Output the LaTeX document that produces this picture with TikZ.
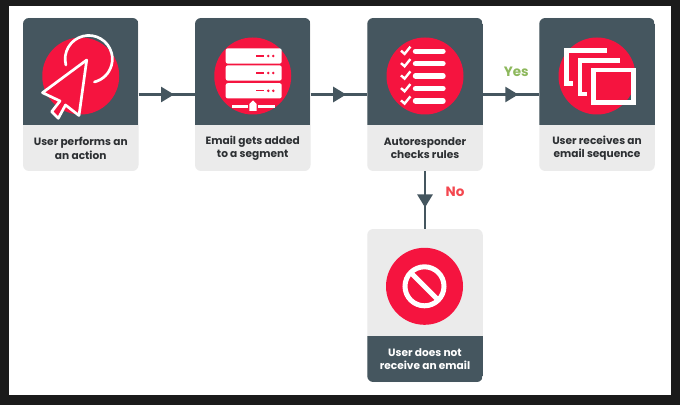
\documentclass[tikz,border=0pt]{standalone}
\usepackage{fontspec}
\setmainfont{Poppins}
\usetikzlibrary{arrows.meta,decorations.markings}
\definecolor{slate}{HTML}{45565F}
\definecolor{crimson}{HTML}{F5143F}
\definecolor{paleback}{HTML}{EBEBEB}
\definecolor{inkdark}{HTML}{2D3033}
\definecolor{yesgreen}{HTML}{8DB85C}
\definecolor{nored}{HTML}{F4474F}
\definecolor{screenedge}{HTML}{1B1B1B}
\tikzset{
    cardbase/.style={minimum width=115.5pt,minimum height=153pt,inner sep=0pt,rounded corners=6pt},
    cardtop/.style={cardbase,fill=paleback,path picture={
        \fill[slate,sharp corners] ([yshift=-107pt]path picture bounding box.north west) rectangle (path picture bounding box.north east);}},
    cardbottom/.style={cardbase,fill=paleback,path picture={
        \fill[slate,sharp corners] ([yshift=46pt]path picture bounding box.south west) rectangle (path picture bounding box.south east);}},
    cardtext/.style={align=center,inner sep=0pt,text=inkdark,font=\bfseries\fontsize{10.6}{13.3}\selectfont},
    badge/.style={circle,fill=crimson,minimum size=77pt,inner sep=0pt},
    answer/.style={inner sep=0pt,font=\bfseries\fontsize{13.5}{15}\selectfont},
    flow/.style={draw=slate,line width=2.6pt,postaction={decorate},decoration={markings,
        mark=at position 0.63 with {\arrow[slate]{Triangle[length=13pt,width=15pt]}}}},
    iconline/.style={draw=white,line width=2.7pt,line join=round,line cap=round},
}
\begin{document}
\begin{tikzpicture}[x=1pt,y=1pt]
    \useasboundingbox (0,0) rectangle (680,405);
    \fill[screenedge] (0,0) rectangle (680,405);
    \fill[white] (9,10) rectangle (671,399);

    % cards
    \node[cardtop] (actionbox) at (80.75,310.5) {};
    \node[cardtop] (segmentbox) at (252.75,310.5) {};
    \node[cardtop] (rulesbox) at (425,310.5) {};
    \node[cardtop] (sequencebox) at (597,310.5) {};
    \node[cardbottom] (noemailbox) at (425,99.5) {};

    \node[cardtext] (actionlabel) at (80.75,256.7) {User performs an\\an action};
    \node[cardtext] (segmentlabel) at (252.75,256.7) {Email gets added\\to a segment};
    \node[cardtext] (ruleslabel) at (425,256.7) {Autoresponder\\checks rules};
    \node[cardtext] (sequencelabel) at (597,256.7) {User receives an\\email sequence};
    \node[cardtext,text=white] (noemaillabel) at (425,46) {User does not\\receive an email};

    % connectors
    \draw[flow] (actionbox) -- (segmentbox);
    \draw[flow] (segmentbox) -- (rulesbox);
    \draw[flow] (rulesbox) -- (sequencebox);
    \draw[flow] (rulesbox) -- (noemailbox);
    \node[answer,text=yesgreen] (yeslabel) at (516.3,332.7) {Yes};
    \node[answer,text=nored] (nolabel) at (455,213.3) {No};

    % badges
    \node[badge] (actionbadge) at (80.75,329) {};
    \node[badge] (segmentbadge) at (252.75,329) {};
    \node[badge] (rulesbadge) at (425,329) {};
    \node[badge] (sequencebadge) at (597,329) {};
    \node[badge] (noemailbadge) at (424.5,118.7) {};

    % pointer
    \draw[iconline] (65.9,340) arc (194.6:-76:23.6);
    \draw[iconline,fill=crimson] (86.7,345) -- (42.5,312.3) -- (60,304) -- (51.7,293.3) -- (58.3,286.7)
        -- (65.5,300) -- (79,289.5) -- cycle;

    % server
    \foreach \rowy in {349,332,314.2} {
        \fill[white,rounded corners=2pt] (225.7,\rowy-7.6) rectangle (281.7,\rowy+7.6);
        \draw[crimson,line width=1.2pt] (256,\rowy) -- (264.3,\rowy);
        \fill[crimson] (268.3,\rowy) circle (1.4);
        \fill[crimson] (273.3,\rowy) circle (1.4);
    }
    \fill[white] (232.3,296.8) rectangle (248.3,299.8);
    \fill[white] (258.3,296.8) rectangle (275,299.8);
    \fill[white] (249.3,294) -- (256.7,294) -- (256.7,301) -- (253,304.5) -- (249.3,301) -- cycle;

    % checklist
    \foreach \rowy in {353.7,341.3,329,316.3,304} {
        \draw[white,line width=5.4pt,line cap=round] (415.5,\rowy) -- (443,\rowy);
        \draw[white,line width=2.4pt] (401,\rowy+.6) -- (404.6,\rowy-2.6) -- (410.4,\rowy+4.6);
    }

    % windows
    \draw[white,line width=4.4pt] (606.7,354.5) -- (566.5,354.5) -- (566.5,321.5) -- (573.3,321.5);
    \draw[white,line width=4.4pt] (620,344.5) -- (579.9,344.5) -- (579.9,311.2) -- (586.7,311.2);
    \draw[white,line width=4.6pt] (593.3,302.3) rectangle (633.4,335);

    % forbidden sign
    \draw[white,line width=5pt] (424.5,118.7) circle (19.5);
    \draw[white,line width=5pt] (410.7,132.5) -- (438.3,104.9);
\end{tikzpicture}
\end{document}
